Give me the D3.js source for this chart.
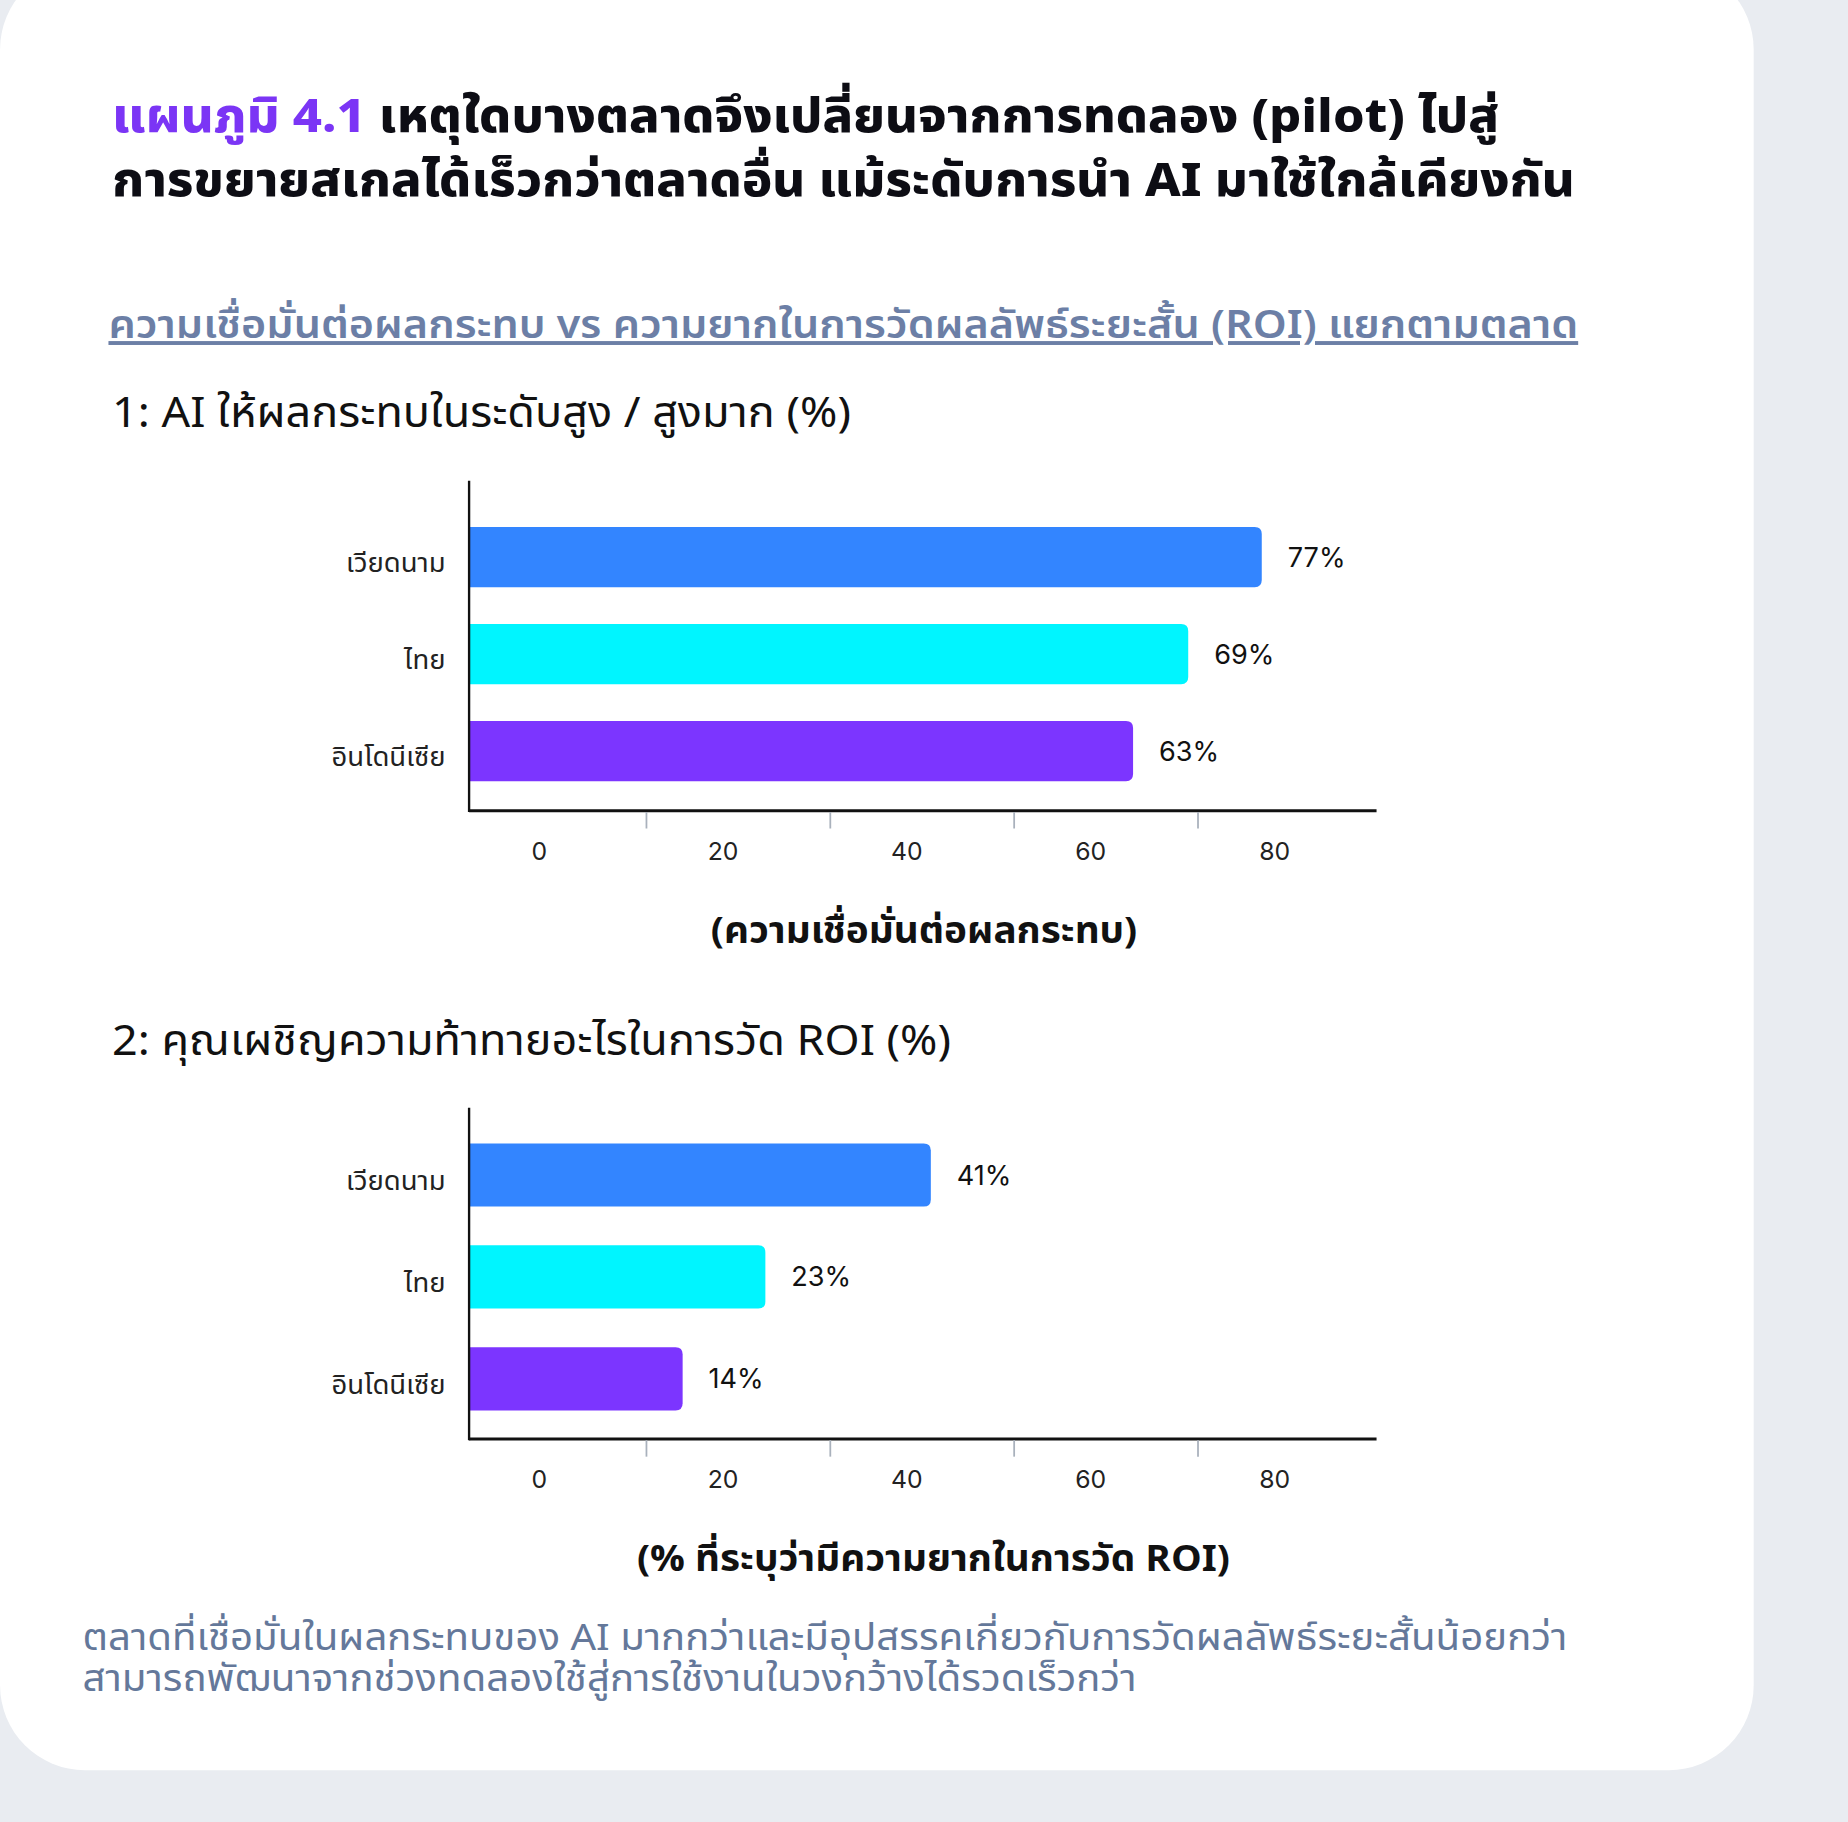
<!DOCTYPE html>
<html>
<head>
<meta charset="utf-8">
<script src="https://cdn.jsdelivr.net/npm/d3@7"></script>
<style>
  html, body { margin: 0; padding: 0; background: #e9ecf1; }
  svg { display: block; }
  text { font-family: "Noto Sans Thai", "Noto Sans", "Noto Sans CJK SC", sans-serif; }
  .num { font-family: Inter, "Noto Sans", sans-serif; }
</style>
</head>
<body>
<div id="chart"></div>
<script>
// markets and colours
const markets = ["เวียดนาม", "ไทย", "อินโดนีเซีย"];
const marketColors = ["#3385ff", "#00f5ff", "#7c35ff"];

// chart 1: confidence in impact (%)
const confidence = [77, 69, 63];
// chart 2: difficulty measuring ROI (%)
const roiDifficulty = [41, 23, 14];

// labelled values, and the small tick marks that sit between them
const tickLabels = [0, 20, 40, 60, 80];
const tickMarks = [10, 30, 50, 70];

const titleLead = "แผนภูมิ 4.1";
const titleRest1 = " เหตุใดบางตลาดจึงเปลี่ยนจากการทดลอง (pilot) ไปสู่";
const titleLine2 = "การขยายสเกลได้เร็วกว่าตลาดอื่น แม้ระดับการนำ AI มาใช้ใกล้เคียงกัน";
const subtitle = "ความเชื่อมั่นต่อผลกระทบ vs ความยากในการวัดผลลัพธ์ระยะสั้น (ROI) แยกตามตลาด";
const chart1Title = "1: AI ให้ผลกระทบในระดับสูง / สูงมาก (%)";
const chart1Axis = "(ความเชื่อมั่นต่อผลกระทบ)";
const chart2Title = "2: คุณเผชิญความท้าทายอะไรในการวัด ROI (%)";
const chart2Axis = "(% ที่ระบุว่ามีความยากในการวัด ROI)";
const footer = [
  "ตลาดที่เชื่อมั่นในผลกระทบของ AI มากกว่าและมีอุปสรรคเกี่ยวกับการวัดผลลัพธ์ระยะสั้นน้อยกว่า",
  "สามารถพัฒนาจากช่วงทดลองใช้สู่การใช้งานในวงกว้างได้รวดเร็วกว่า"
];

// work in a 1568 wide frame, scaled up to the window
const W = 1568, H = 1546;
const svg = d3.select("#chart").append("svg")
  .attr("width", 1848)
  .attr("height", 1822)
  .attr("viewBox", `0 0 ${W} ${H}`);

// place a text at (x, y), widened by sx (the source face runs wider)
const placeText = function(sel, x, y, sx) {
  return sel.attr("x", 0).attr("y", 0)
    .attr("transform", `translate(${x},${y}) scale(${sx},1)`);
};

svg.append("rect").attr("width", W).attr("height", H).attr("fill", "#e9ecf1");
// white card
svg.append("rect")
  .attr("x", 0).attr("y", -30)
  .attr("width", 1488).attr("height", 1532)
  .attr("rx", 72)
  .attr("fill", "#ffffff");

// heading
const h = placeText(svg.append("text"), 95, 112, 1.073)
  .attr("font-size", 40).attr("font-weight", 800).attr("fill", "#0d0d14");
h.append("tspan").attr("fill", "#7b35f5").text(titleLead);
h.append("tspan").text(titleRest1);
placeText(svg.append("text"), 95, 166, 1.073)
  .attr("font-size", 40).attr("font-weight", 800).attr("fill", "#0d0d14")
  .text(titleLine2);

placeText(svg.append("text"), 92, 287, 1.108)
  .attr("font-size", 33).attr("font-weight", 600).attr("fill", "#6c7fa6")
  .attr("text-decoration", "underline")
  .text(subtitle);

// one horizontal bar panel
const drawPanel = function(opts) {
  const g = svg.append("g");
  const left = 398, right = 1168;

  placeText(g.append("text"), 95, opts.titleY, 1.06)
    .attr("font-size", 36).attr("fill", "#111")
    .text(opts.title);

  // value scale; bars grow from the vertical axis line
  const x = d3.scaleLinear().domain([0, 100]).range([470, 1250]);
  const y = d3.scaleBand().domain(markets)
    .range([opts.top, opts.bottom]).paddingInner(0.38).paddingOuter(0.5);

  g.selectAll("path.bar")
    .data(opts.values)
    .join("path")
    .attr("class", "bar")
    .attr("fill", (d, i) => marketColors[i])
    .attr("d", (d, i) => {
      const x0 = left, x1 = x(d), y0 = y(markets[i]), bh = y.bandwidth(), r = 6;
      return `M${x0},${y0}H${x1 - r}Q${x1},${y0} ${x1},${y0 + r}V${y0 + bh - r}Q${x1},${y0 + bh} ${x1 - r},${y0 + bh}H${x0}Z`;
    });

  g.selectAll("text.val")
    .data(opts.values)
    .join("text")
    .attr("class", "val num")
    .attr("x", d => x(d) + 22)
    .attr("y", (d, i) => y(markets[i]) + y.bandwidth() / 2)
    .attr("dy", "0.35em")
    .attr("font-size", 23).attr("fill", "#111")
    .text(d => d + "%");

  g.selectAll("text.cat")
    .data(markets)
    .join("text")
    .attr("class", "cat")
    .each(function(d) {
      placeText(d3.select(this), left - 20, y(d) + y.bandwidth() / 2 + 5, 1.06);
    })
    .attr("dy", "0.35em")
    .attr("text-anchor", "end")
    .attr("font-size", 22).attr("fill", "#222")
    .text(d => d);

  // axes
  g.append("line")
    .attr("x1", left).attr("x2", left)
    .attr("y1", opts.axisTop).attr("y2", opts.axisY + 1)
    .attr("stroke", "#111").attr("stroke-width", 2);
  g.append("line")
    .attr("x1", left).attr("x2", right)
    .attr("y1", opts.axisY).attr("y2", opts.axisY)
    .attr("stroke", "#111").attr("stroke-width", 2.5);

  const marks = g.append("g")
    .attr("transform", `translate(0,${opts.axisY + 1})`)
    .call(d3.axisBottom(x).tickValues(tickMarks).tickSize(14).tickFormat(""));
  marks.select(".domain").remove();
  marks.selectAll(".tick line").attr("stroke", "#a9b1bc").attr("stroke-width", 1.5);

  const labels = g.append("g")
    .attr("transform", `translate(0,${opts.axisY + 1})`)
    .call(d3.axisBottom(x).tickValues(tickLabels).tickSize(0).tickFormat(d3.format("d")));
  labels.select(".domain").remove();
  labels.selectAll(".tick text")
    .attr("class", "num")
    .attr("font-size", 21).attr("fill", "#222")
    .attr("dx", -13)
    .attr("y", 26);

  placeText(g.append("text"), opts.axisTitleX, opts.axisY + 112, 1.06)
    .attr("text-anchor", "middle")
    .attr("font-size", 31).attr("font-weight", 700).attr("fill", "#111")
    .text(opts.axisTitle);
};

drawPanel({
  title: chart1Title, titleY: 362,
  values: confidence,
  top: 406, bottom: 704, axisTop: 408, axisY: 688,
  axisTitle: chart1Axis, axisTitleX: 784
});

drawPanel({
  title: chart2Title, titleY: 895,
  values: roiDifficulty,
  top: 927, bottom: 1240, axisTop: 940, axisY: 1221,
  axisTitle: chart2Axis, axisTitleX: 792
});

// footer note
const note = placeText(svg.append("text"), 70, 1400, 1.1)
  .attr("font-size", 31).attr("fill", "#64789a");
note.selectAll("tspan")
  .data(footer)
  .join("tspan")
  .attr("x", 0)
  .attr("dy", (d, i) => i === 0 ? 0 : 35)
  .text(d => d);
</script>
</body>
</html>
